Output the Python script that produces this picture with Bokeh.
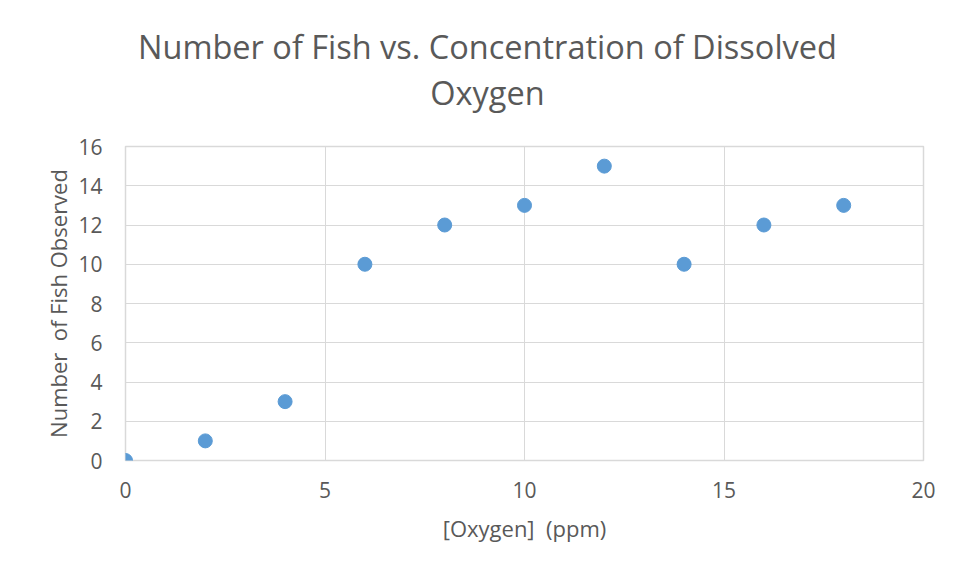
from bokeh.plotting import figure
from bokeh.models import Div, FixedTicker, Range1d
from bokeh.layouts import column
from bokeh.embed import file_html
from bokeh.resources import INLINE

oxygen_ppm = [0, 2, 4, 6, 8, 10, 12, 14, 16, 18]
fish_observed = [0, 1, 3, 10, 12, 13, 15, 10, 12, 13]
x_ticks = [0, 5, 10, 15, 20]
y_ticks = [0, 2, 4, 6, 8, 10, 12, 14, 16]
title_lines = ["Number of Fish vs. Concentration of Dissolved", "Oxygen"]

FONT = "Open Sans"
GRAY = "#595959"

title_div = Div(
    text="<br>".join(title_lines), width=945, height=120,
    styles={"font-family": FONT, "font-size": "32.5px", "color": GRAY,
            "line-height": "46px", "text-align": "center"},
    stylesheets=[":host { margin: 0; } .bk-clearfix { width: 900px; margin-left: 30px; padding-top: 24px; }"],
)

p = figure(width=945, height=445, output_backend="svg", toolbar_location=None,
           x_range=Range1d(0, 20), y_range=Range1d(0, 16),
           min_border_left=125, min_border_right=22, min_border_top=26, min_border_bottom=105)

p.scatter(oxygen_ppm, fish_observed, size=14, color="#5B9BD5", line_color="#5B9BD5")

for ax in (p.xaxis, p.yaxis):
    ax.axis_line_color = None
    ax.major_tick_line_color = None
    ax.minor_tick_line_color = None
    ax.major_label_text_font = FONT
    ax.major_label_text_font_size = "21px"
    ax.major_label_text_color = GRAY
    ax.axis_label_text_font = FONT
    ax.axis_label_text_font_size = "22px"
    ax.axis_label_text_color = GRAY
    ax.axis_label_text_font_style = "normal"

p.xaxis.ticker = FixedTicker(ticks=x_ticks)
p.yaxis.ticker = FixedTicker(ticks=y_ticks)
p.xaxis.major_label_standoff = 15
p.yaxis.major_label_standoff = 17
p.xaxis.axis_label = "[Oxygen]\u00a0 (ppm)"
p.yaxis.axis_label = "Number\u00a0 of Fish Observed"
p.xaxis.axis_label_standoff = 12
p.yaxis.axis_label_standoff = 2

p.xgrid.grid_line_color = "#d9d9d9"
p.ygrid.grid_line_color = "#d9d9d9"
p.outline_line_color = "#d9d9d9"
p.outline_line_width = 1.5
p.background_fill_color = "white"
p.border_fill_color = "white"

layout = column(title_div, p, spacing=0)
open("out.html", "w").write(file_html(layout, INLINE))
